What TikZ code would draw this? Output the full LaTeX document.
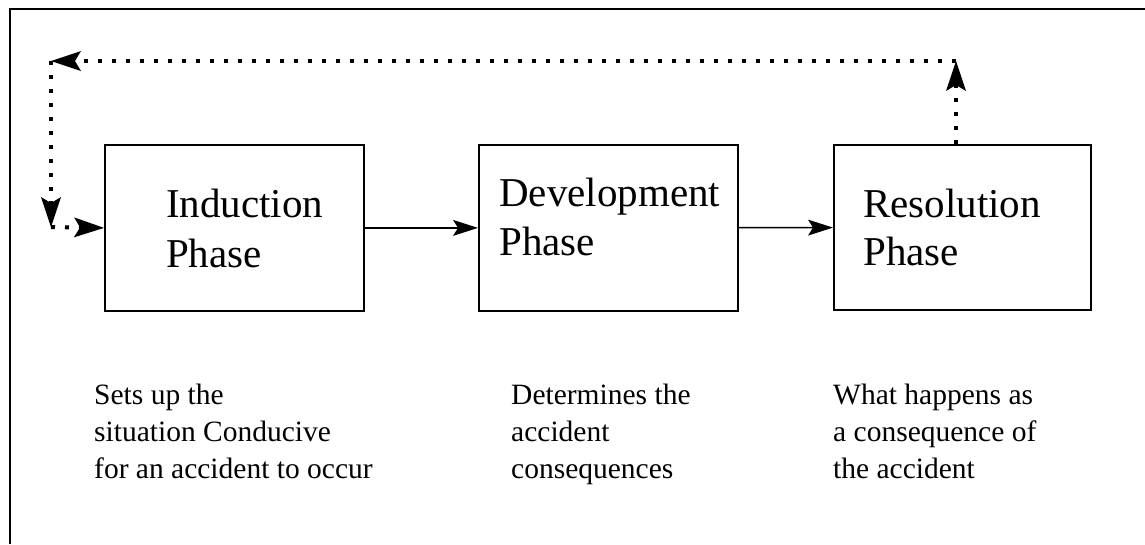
\documentclass[tikz,border=0pt]{standalone}
\usepackage{fontspec}
\setmainfont{Liberation Serif}
\usetikzlibrary{arrows.meta}
\begin{document}
\begin{tikzpicture}[x=1pt,y=-1pt,
  phasebox/.style={draw,line width=1.8pt,rectangle,inner sep=0pt,anchor=north west},
  boxtext/.style={anchor=base west,inner sep=0pt,font=\fontsize{41}{50}\selectfont},
  desc/.style={anchor=base west,inner sep=0pt,font=\fontsize{29.5}{37}\selectfont},
  solidarr/.style={line width=1.5pt,-{Stealth[length=25pt,width=16pt,inset=5pt,line width=0pt]}},
  dotline/.style={line width=4pt,dash pattern=on 4pt off 10pt},
  dotarr/.style={dotline,-{Stealth[length=30pt,width=20pt,inset=6pt,line width=0pt]}}]
\useasboundingbox (0,0) rectangle (1145,544);
\draw[line width=1.8pt] (10,544) -- (10,9) -- (1145,9);
% boxes
\node[phasebox,minimum width=259pt,minimum height=166pt] (ind) at (104,144) {};
\node[phasebox,minimum width=259pt,minimum height=166pt] (dev) at (478,144) {};
\node[phasebox,minimum width=257pt,minimum height=165pt] (res) at (833,144) {};
% box texts
\node[boxtext] (t1a) at (166,217) {Induction};
\node[boxtext] (t1b) at (166,267) {Phase};
\node[boxtext] (t2a) at (499,206) {Development};
\node[boxtext] (t2b) at (499,255) {Phase};
\node[boxtext] (t3a) at (863,217) {Resolution};
\node[boxtext] (t3b) at (863,265) {Phase};
% descriptions
\node[desc] (d1a) at (94,404) {Sets up the};
\node[desc] (d1b) at (94,441) {situation Conducive};
\node[desc] (d1c) at (94,478) {for an accident to occur};
\node[desc] (d2a) at (511,404) {Determines the};
\node[desc] (d2b) at (511,441) {accident};
\node[desc] (d2c) at (511,478) {consequences};
\node[desc] (d3a) at (833,404) {What happens as};
\node[desc] (d3b) at (833,441) {a consequence of};
\node[desc] (d3c) at (833,478) {the accident};
% solid arrows
\draw[solidarr] (ind) -- (dev);
\draw[solidarr] (dev) -- (res);
% feedback loop
\coordinate (tr) at (956,61);
\coordinate (tl) at (51,61);
\coordinate (bl) at (51,227);
\draw[dotarr] (res.north -| tr) -- (tr);
\draw[dotarr] (tr) -- (tl);
\draw[dotarr] (tl) -- (bl);
\draw[dotarr] (bl) -- (ind.west);
\end{tikzpicture}
\end{document}
